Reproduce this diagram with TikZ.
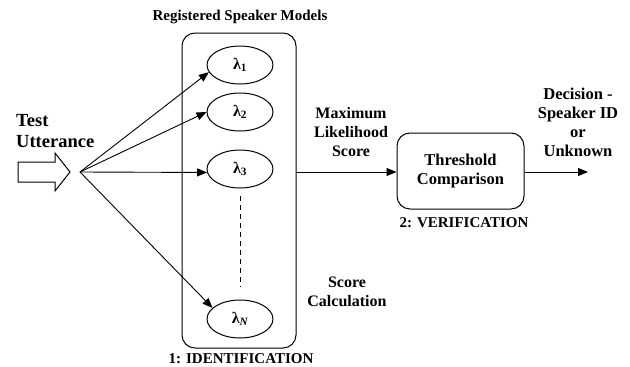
\documentclass[tikz,border=0pt]{standalone}
\usepackage{fontspec}
\setmainfont{Liberation Serif}
\usetikzlibrary{arrows.meta,shapes.geometric}
\begin{document}
\begin{tikzpicture}[x=1pt,y=-1pt,
  lbl/.style={font=\fontsize{16}{19}\selectfont\bfseries, align=center, inner sep=0pt},
  head/.style={font=\fontsize{15}{18}\selectfont\bfseries, inner sep=0pt},
  model/.style={ellipse, draw, line width=1pt, minimum width=66pt, minimum height=38pt, inner sep=0pt, font=\fontsize{16}{19}\selectfont\bfseries},
  conn/.style={line width=0.9pt, -{Triangle[length=10pt,width=8pt]}},
  box/.style={draw, line width=1pt, rounded corners=13pt}
]
\useasboundingbox (0,0) rectangle (630,367);

% container of speaker models
\node[box, minimum width=114pt, minimum height=315pt, inner sep=0pt] (models) at (239,190.5) {};
\node[head] (reg) at (240,17) {Registered Speaker Models};
\node[head] (ident) at (241,359) {1: IDENTIFICATION};

\node[model] (l1) at (240,65) {λ\textsubscript{1}};
\node[model] (l2) at (240,112) {λ\textsubscript{2}};
\node[model] (l3) at (240,169) {λ\textsubscript{3}};
\node[model] (lN) at (240,319) {λ\textsubscript{\itshape N}};
\coordinate (dtop) at (240,196);
\coordinate (dbot) at (240,287);
\draw[line width=0.9pt, dash pattern=on 5pt off 4pt] (dtop) -- (dbot);

% input
\node[font=\fontsize{18.5}{21}\selectfont\bfseries, align=left, anchor=west, inner sep=0pt] (test) at (16,131) {Test\\Utterance};
\draw[line width=1pt] (18,162) -- (55,162) -- (55,153) -- (70,172) -- (55,191) -- (55,182) -- (18,182) -- cycle;
\coordinate (src) at (80,172);
\draw[conn] (src) -- (l1.193);
\draw[conn] (src) -- (l2.west);
\draw[conn] (src) -- (l3.186);
\draw[conn] (src) -- (lN.158);

% scoring
\node[lbl] (maxlik) at (351,132) {Maximum\\Likelihood\\Score};
\node[lbl] (score) at (347,292) {Score\\Calculation};

% verification
\node[box, minimum width=127pt, minimum height=76pt, align=center, font=\fontsize{16.5}{19}\selectfont\bfseries] (thr) at (460.5,171) {Threshold\\Comparison};
\node[head] (verif) at (464,223) {2: VERIFICATION};
\coordinate (mout) at (296,172);
\draw[conn] (mout) -- (thr.west |- mout);
\coordinate (out) at (588,172);
\draw[conn] (thr.east |- out) -- (out);
\node[lbl, font=\fontsize{16.5}{19}\selectfont\bfseries] (dec) at (578,122) {Decision -\\Speaker ID\\or\\Unknown};
\end{tikzpicture}
\end{document}
